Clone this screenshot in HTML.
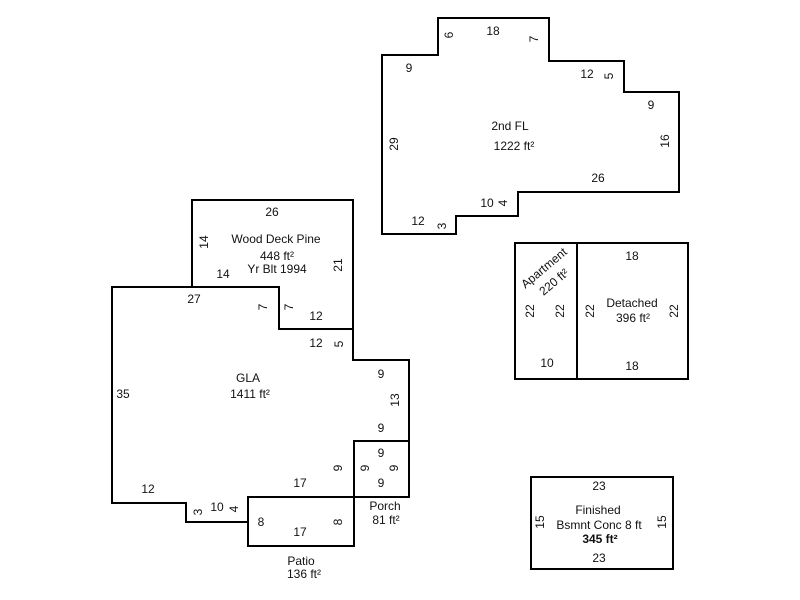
<!DOCTYPE html>
<html><head><meta charset="utf-8"><style>
html,body{margin:0;padding:0;background:#fff;}
svg{display:block;}
text{font-family:"Liberation Sans",Arial,sans-serif;font-size:12px;fill:#111;text-anchor:middle;dominant-baseline:central;}
</style></head><body>
<svg width="800" height="600" viewBox="0 0 800 600" xmlns="http://www.w3.org/2000/svg">
<g fill="none" stroke="#000" stroke-width="2" stroke-linecap="square" stroke-linejoin="miter">
<path d="M438,18 H549 V61 H624 V92 H679 V192 H518 V216 H456 V234 H382 V55 H438 Z"/>
<path d="M192,287 V200 H353 V329"/>
<path d="M112,287 H279 V329 H353 V360 H409 V441 H354 V497 H248 V522 H186 V503 H112 Z"/>
<rect x="354" y="441" width="55" height="56"/>
<rect x="248" y="497" width="106" height="49"/>
<rect x="515" y="243" width="173" height="136"/>
<line x1="577" y1="243" x2="577" y2="379"/>
<rect x="531" y="477" width="142" height="92"/>
</g>
<!-- 2nd FL -->
<text x="510" y="126">2nd FL</text>
<text x="514" y="146">1222 ft²</text>
<text x="449" y="35" transform="rotate(-90 449 35)">6</text>
<text x="493" y="31">18</text>
<text x="534" y="39" transform="rotate(-90 534 39)">7</text>
<text x="409" y="68">9</text>
<text x="587" y="74">12</text>
<text x="609" y="76" transform="rotate(-90 609 76)">5</text>
<text x="651" y="105">9</text>
<text x="394" y="144" transform="rotate(-90 394 144)">29</text>
<text x="665" y="141" transform="rotate(-90 665 141)">16</text>
<text x="598" y="178">26</text>
<text x="487" y="203">10</text>
<text x="503" y="203" transform="rotate(-90 503 203)">4</text>
<text x="418" y="221">12</text>
<text x="442" y="226" transform="rotate(-90 442 226)">3</text>
<!-- Wood deck -->
<text x="272" y="212">26</text>
<text x="204" y="242" transform="rotate(-90 204 242)">14</text>
<text x="276" y="239">Wood Deck Pine</text>
<text x="277" y="256">448 ft²</text>
<text x="277" y="269">Yr Blt 1994</text>
<text x="223" y="274">14</text>
<text x="338" y="265" transform="rotate(-90 338 265)">21</text>
<text x="194" y="299">27</text>
<text x="263" y="307" transform="rotate(-90 263 307)">7</text>
<text x="289" y="307" transform="rotate(-90 289 307)">7</text>
<text x="316" y="316">12</text>
<text x="316" y="343">12</text>
<text x="339" y="344" transform="rotate(-90 339 344)">5</text>
<!-- GLA -->
<text x="248" y="378">GLA</text>
<text x="250" y="394">1411 ft²</text>
<text x="123" y="394">35</text>
<text x="381" y="374">9</text>
<text x="395" y="400" transform="rotate(-90 395 400)">13</text>
<text x="381" y="428">9</text>
<text x="381" y="453">9</text>
<text x="338" y="468" transform="rotate(-90 338 468)">9</text>
<text x="365" y="468" transform="rotate(-90 365 468)">9</text>
<text x="394" y="468" transform="rotate(-90 394 468)">9</text>
<text x="381" y="483">9</text>
<text x="300" y="483">17</text>
<text x="148" y="489">12</text>
<text x="198" y="512" transform="rotate(-90 198 512)">3</text>
<text x="217" y="507">10</text>
<text x="234" y="509" transform="rotate(-90 234 509)">4</text>
<text x="261" y="522">8</text>
<text x="338" y="522" transform="rotate(-90 338 522)">8</text>
<text x="300" y="532">17</text>
<text x="385" y="506">Porch</text>
<text x="386" y="520">81 ft²</text>
<text x="301" y="561">Patio</text>
<text x="304" y="574">136 ft²</text>
<!-- Apartment / Detached -->
<text x="544" y="268" transform="rotate(-40 544 268)">Apartment</text>
<text x="554" y="282" transform="rotate(-40 554 282)">220 ft²</text>
<text x="530" y="311" transform="rotate(-90 530 311)">22</text>
<text x="560" y="311" transform="rotate(-90 560 311)">22</text>
<text x="590" y="311" transform="rotate(-90 590 311)">22</text>
<text x="674" y="311" transform="rotate(-90 674 311)">22</text>
<text x="632" y="256">18</text>
<text x="632" y="303">Detached</text>
<text x="633" y="318">396 ft²</text>
<text x="547" y="363">10</text>
<text x="632" y="366">18</text>
<!-- Basement -->
<text x="599" y="486">23</text>
<text x="598" y="510">Finished</text>
<text x="599" y="525">Bsmnt Conc 8 ft</text>
<text x="600" y="539" style="font-weight:bold">345 ft²</text>
<text x="540" y="522" transform="rotate(-90 540 522)">15</text>
<text x="662" y="522" transform="rotate(-90 662 522)">15</text>
<text x="599" y="558">23</text>
</svg>
</body></html>
